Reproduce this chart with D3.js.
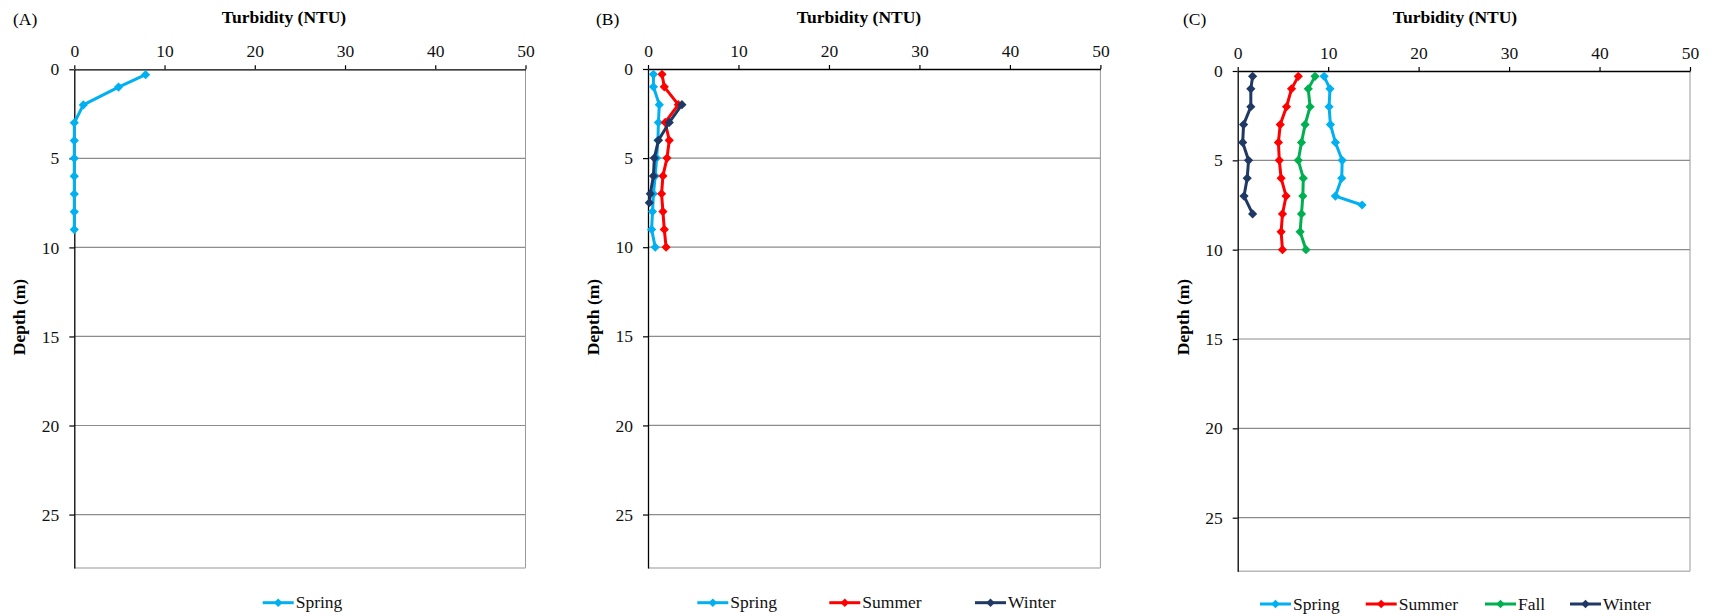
<!DOCTYPE html>
<html>
<head>
<meta charset="utf-8">
<script src="https://cdn.jsdelivr.net/npm/d3@7"></script>
<style>
  body { margin: 0; background: #fff; }
  svg { display: block; font-family: "Liberation Serif", "Times New Roman", serif; }
</style>
</head>
<body>
<svg id="chart" width="1713" height="616"></svg>
<script>
// Axis ticks
const depthTicks = [0, 5, 10, 15, 20, 25];
const turbidityTicks = [0, 10, 20, 30, 40, 50];
const depthMax = 28;
const turbidityMax = 50;

// Panel A
const depthA = [0.3, 1, 2, 3, 4, 5, 6, 7, 8, 9];
const springA = [7.9, 4.9, 1.0, 0, 0, 0, 0, 0, 0, 0];

// Panel B
const depthB = [0.3, 1, 2, 3, 4, 5, 6, 7, 8, 9, 10];
const springB = [0.6, 0.6, 1.25, 1.15, 1.1, 0.95, 0.8, 0.6, 0.5, 0.4, 0.8];
const summerB = [1.55, 1.8, 3.35, 1.9, 2.35, 2.1, 1.65, 1.5, 1.65, 1.8, 2.0];
const depthBWinter = [2, 3, 4, 5, 6, 7, 7.5];
const winterB = [3.75, 2.35, 1.15, 0.7, 0.6, 0.25, 0.15];

// Panel C
const depthCSpring = [0.3, 1, 2, 3, 4, 5, 6, 7, 7.5];
const springC = [9.55, 10.2, 10.1, 10.25, 10.8, 11.55, 11.5, 10.8, 13.75];
const depthC = [0.3, 1, 2, 3, 4, 5, 6, 7, 8, 9, 10];
const summerC = [6.7, 5.95, 5.4, 4.7, 4.5, 4.6, 4.8, 5.35, 4.95, 4.8, 4.95];
const fallC = [8.55, 7.8, 8.0, 7.45, 7.05, 6.7, 7.25, 7.2, 7.05, 6.9, 7.55];
const depthCWinter = [0.3, 1, 2, 3, 4, 5, 6, 7, 8];
const winterC = [1.65, 1.45, 1.45, 0.65, 0.55, 1.2, 1.05, 0.7, 1.65];

const seasonColor = {
  Spring: "#00B0F0",
  Summer: "#FF0000",
  Fall: "#00B050",
  Winter: "#1F3864"
};

const FONT = 17.5;
const SERIF = '"Liberation Serif", "Times New Roman", serif';

const panels = [
  {
    tag: "(A)", tagX: 13, titleX: 284,
    x0: 74.3, x1: 525.5, y0: 69.3, y1: 568, legendY: 602.7,
    series: [
      { name: "Spring", depth: depthA, value: springA, legendX: 262.7 }
    ]
  },
  {
    tag: "(B)", tagX: 596, titleX: 859,
    x0: 648, x1: 1100.4, y0: 69, y1: 568, legendY: 602.7,
    series: [
      { name: "Spring", depth: depthB, value: springB, legendX: 697.3 },
      { name: "Summer", depth: depthB, value: summerB, legendX: 829.3 },
      { name: "Winter", depth: depthBWinter, value: winterB, legendX: 975 }
    ]
  },
  {
    tag: "(C)", tagX: 1183, titleX: 1455,
    x0: 1237.7, x1: 1690, y0: 71, y1: 571.3, legendY: 604,
    series: [
      { name: "Spring", depth: depthCSpring, value: springC, legendX: 1260 },
      { name: "Summer", depth: depthC, value: summerC, legendX: 1365.7 },
      { name: "Fall", depth: depthC, value: fallC, legendX: 1485 },
      { name: "Winter", depth: depthCWinter, value: winterC, legendX: 1570 }
    ]
  }
];

const svg = d3.select("#chart")
  .attr("font-family", SERIF);

// diamond marker (square rotated 45 degrees)
function diamond(r) {
  return `M0,${-r}L${r},0L0,${r}L${-r},0Z`;
}

function styleAxis(sel) {
  sel.attr("font-family", SERIF).attr("font-size", FONT);
  sel.select(".domain").attr("stroke", "#000").attr("stroke-width", 1.3);
  sel.selectAll(".tick line").attr("stroke", "#000").attr("stroke-width", 1.2);
  sel.selectAll(".tick text").attr("fill", "#111");
}

panels.forEach(p => {
  const x = d3.scaleLinear().domain([0, turbidityMax]).range([p.x0, p.x1]);
  const y = d3.scaleLinear().domain([0, depthMax]).range([p.y0, p.y1]);
  const g = svg.append("g");

  // horizontal gridlines
  g.selectAll("line.grid")
    .data(depthTicks.filter(d => d > 0))
    .join("line")
    .attr("class", "grid")
    .attr("x1", p.x0).attr("x2", p.x1)
    .attr("y1", d => y(d)).attr("y2", d => y(d))
    .attr("stroke", "#8c8c8c").attr("stroke-width", 1.2);

  // plot area border (right and bottom)
  g.append("line")
    .attr("x1", p.x1).attr("x2", p.x1).attr("y1", p.y0).attr("y2", p.y1)
    .attr("stroke", "#9a9a9a").attr("stroke-width", 1);
  g.append("line")
    .attr("x1", p.x0).attr("x2", p.x1).attr("y1", p.y1).attr("y2", p.y1)
    .attr("stroke", "#b8b8b8").attr("stroke-width", 1.5);

  // top axis (turbidity)
  const xAxis = d3.axisTop(x).tickValues(turbidityTicks).tickSize(4).tickSizeOuter(0).tickPadding(8.5);
  g.append("g").attr("transform", `translate(0,${p.y0})`).call(xAxis).call(styleAxis);

  // left axis (depth)
  const yAxis = d3.axisLeft(y).tickValues(depthTicks).tickSize(5).tickSizeOuter(0).tickPadding(10);
  g.append("g").attr("transform", `translate(${p.x0},0)`).call(yAxis).call(styleAxis);

  // axis titles
  g.append("text")
    .attr("x", p.titleX).attr("y", 23)
    .attr("text-anchor", "middle")
    .attr("font-size", FONT).attr("font-weight", "bold")
    .text("Turbidity (NTU)");
  g.append("text")
    .attr("transform", `translate(${p.x0 - 55},317) rotate(-90)`)
    .attr("text-anchor", "middle")
    .attr("dy", "0.35em")
    .attr("font-size", FONT).attr("font-weight", "bold")
    .text("Depth (m)");

  // panel tag
  g.append("text")
    .attr("x", p.tagX).attr("y", 25)
    .attr("font-size", FONT)
    .text(p.tag);

  // profiles
  const line = d3.line().x(d => x(d.v)).y(d => y(d.d));
  p.series.forEach(s => {
    const pts = s.depth.map((d, i) => ({ d: d, v: s.value[i] }));
    const c = seasonColor[s.name];
    g.append("path")
      .datum(pts)
      .attr("d", line)
      .attr("fill", "none")
      .attr("stroke", c)
      .attr("stroke-width", 3)
      .attr("stroke-linejoin", "round");
    g.selectAll(null)
      .data(pts)
      .join("path")
      .attr("d", diamond(4.6))
      .attr("transform", d => `translate(${x(d.v)},${y(d.d)})`)
      .attr("fill", c);
  });

  // legend
  p.series.forEach(s => {
    const c = seasonColor[s.name];
    const lg = g.append("g").attr("transform", `translate(${s.legendX},${p.legendY})`);
    lg.append("line")
      .attr("x1", 0).attr("x2", 31).attr("y1", 0).attr("y2", 0)
      .attr("stroke", c).attr("stroke-width", 3);
    lg.append("path").attr("d", diamond(4.3)).attr("transform", "translate(15.5,0)").attr("fill", c);
    lg.append("text")
      .attr("x", 33).attr("y", 5.7)
      .attr("font-size", FONT)
      .attr("fill", "#111")
      .text(s.name);
  });
});
</script>
</body>
</html>
